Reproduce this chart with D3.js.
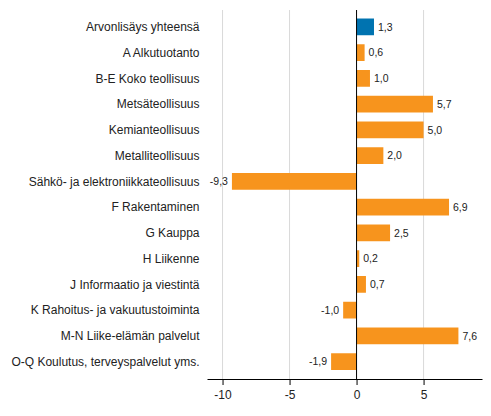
<!DOCTYPE html>
<html>
<head>
<meta charset="utf-8">
<script src="https://cdn.jsdelivr.net/npm/d3@7"></script>
<style>
  body { margin: 0; background: #fff; }
  text { font-family: Arial, "Liberation Sans", sans-serif; }
</style>
</head>
<body>
<div id="chart"></div>
<script>
// data
var categories = [
  "Arvonlisäys yhteensä",
  "A Alkutuotanto",
  "B-E Koko teollisuus",
  "Metsäteollisuus",
  "Kemianteollisuus",
  "Metalliteollisuus",
  "Sähkö- ja elektroniikkateollisuus",
  "F Rakentaminen",
  "G Kauppa",
  "H Liikenne",
  "J Informaatio ja viestintä",
  "K Rahoitus- ja vakuutustoiminta",
  "M-N Liike-elämän palvelut",
  "O-Q Koulutus, terveyspalvelut yms."
];
var values = [1.3, 0.6, 1.0, 5.7, 5.0, 2.0, -9.3, 6.9, 2.5, 0.2, 0.7, -1.0, 7.6, -1.9];
var xTicks = [-10, -5, 0, 5];

var svgWidth = 491;
var svgHeight = 416;

var svg = d3.select("#chart")
  .append("svg")
  .attr("width", svgWidth)
  .attr("height", svgHeight);

// scales
var x = d3.scaleLinear()
  .domain([-11.16, 9.36])
  .range([207, 482]);

var y = d3.scaleBand()
  .domain(categories)
  .range([14, 374.5])
  .paddingInner(0.35)
  .paddingOuter(0.175);

// gridlines
svg.append("g")
  .selectAll("line")
  .data(xTicks.filter(d => d !== 0))
  .enter()
  .append("line")
  .attr("x1", d => x(d))
  .attr("x2", d => x(d))
  .attr("y1", 10)
  .attr("y2", 379)
  .attr("stroke", "#d9d9d9")
  .attr("stroke-width", 1);

// bars
svg.append("g")
  .selectAll("rect")
  .data(values)
  .enter()
  .append("rect")
  .attr("x", d => x(Math.min(0, d)))
  .attr("y", (d, i) => y(categories[i]))
  .attr("width", d => Math.abs(x(d) - x(0)))
  .attr("height", y.bandwidth())
  .attr("fill", (d, i) => i === 0 ? "#0073b0" : "#f7941d");

// value labels
var fmt = d => d.toFixed(1).replace(".", ",");
svg.append("g")
  .selectAll("text")
  .data(values)
  .enter()
  .append("text")
  .attr("x", d => d >= 0 ? x(d) + 4 : x(d) - 4)
  .attr("y", (d, i) => y(categories[i]) + y.bandwidth() / 2)
  .attr("dy", "0.35em")
  .attr("text-anchor", d => d >= 0 ? "start" : "end")
  .style("font-size", "10.5px")
  .attr("fill", "#222")
  .text(fmt);

// category labels
svg.append("g")
  .selectAll("text")
  .data(categories)
  .enter()
  .append("text")
  .attr("x", 199.5)
  .attr("y", d => y(d) + y.bandwidth() / 2)
  .attr("dy", "0.35em")
  .attr("text-anchor", "end")
  .style("font-size", "12px")
  .attr("fill", "#222")
  .text(d => d);

// zero line
svg.append("line")
  .attr("x1", x(0))
  .attr("x2", x(0))
  .attr("y1", 10)
  .attr("y2", 379)
  .attr("stroke", "#000")
  .attr("stroke-width", 1);

// bottom axis
var bottomAxis = d3.axisBottom(x)
  .tickValues(xTicks)
  .tickSize(6)
  .tickSizeOuter(0)
  .tickPadding(5)
  .tickFormat(d => d);

var axisG = svg.append("g")
  .attr("transform", "translate(0, 379)")
  .call(bottomAxis);
axisG.select(".domain").attr("stroke", "#000");
axisG.selectAll(".tick line").attr("stroke", "#000");
axisG.selectAll(".tick text")
  .style("font-size", "12px")
  .style("font-family", "Arial, 'Liberation Sans', sans-serif")
  .attr("fill", "#222");
</script>
</body>
</html>
